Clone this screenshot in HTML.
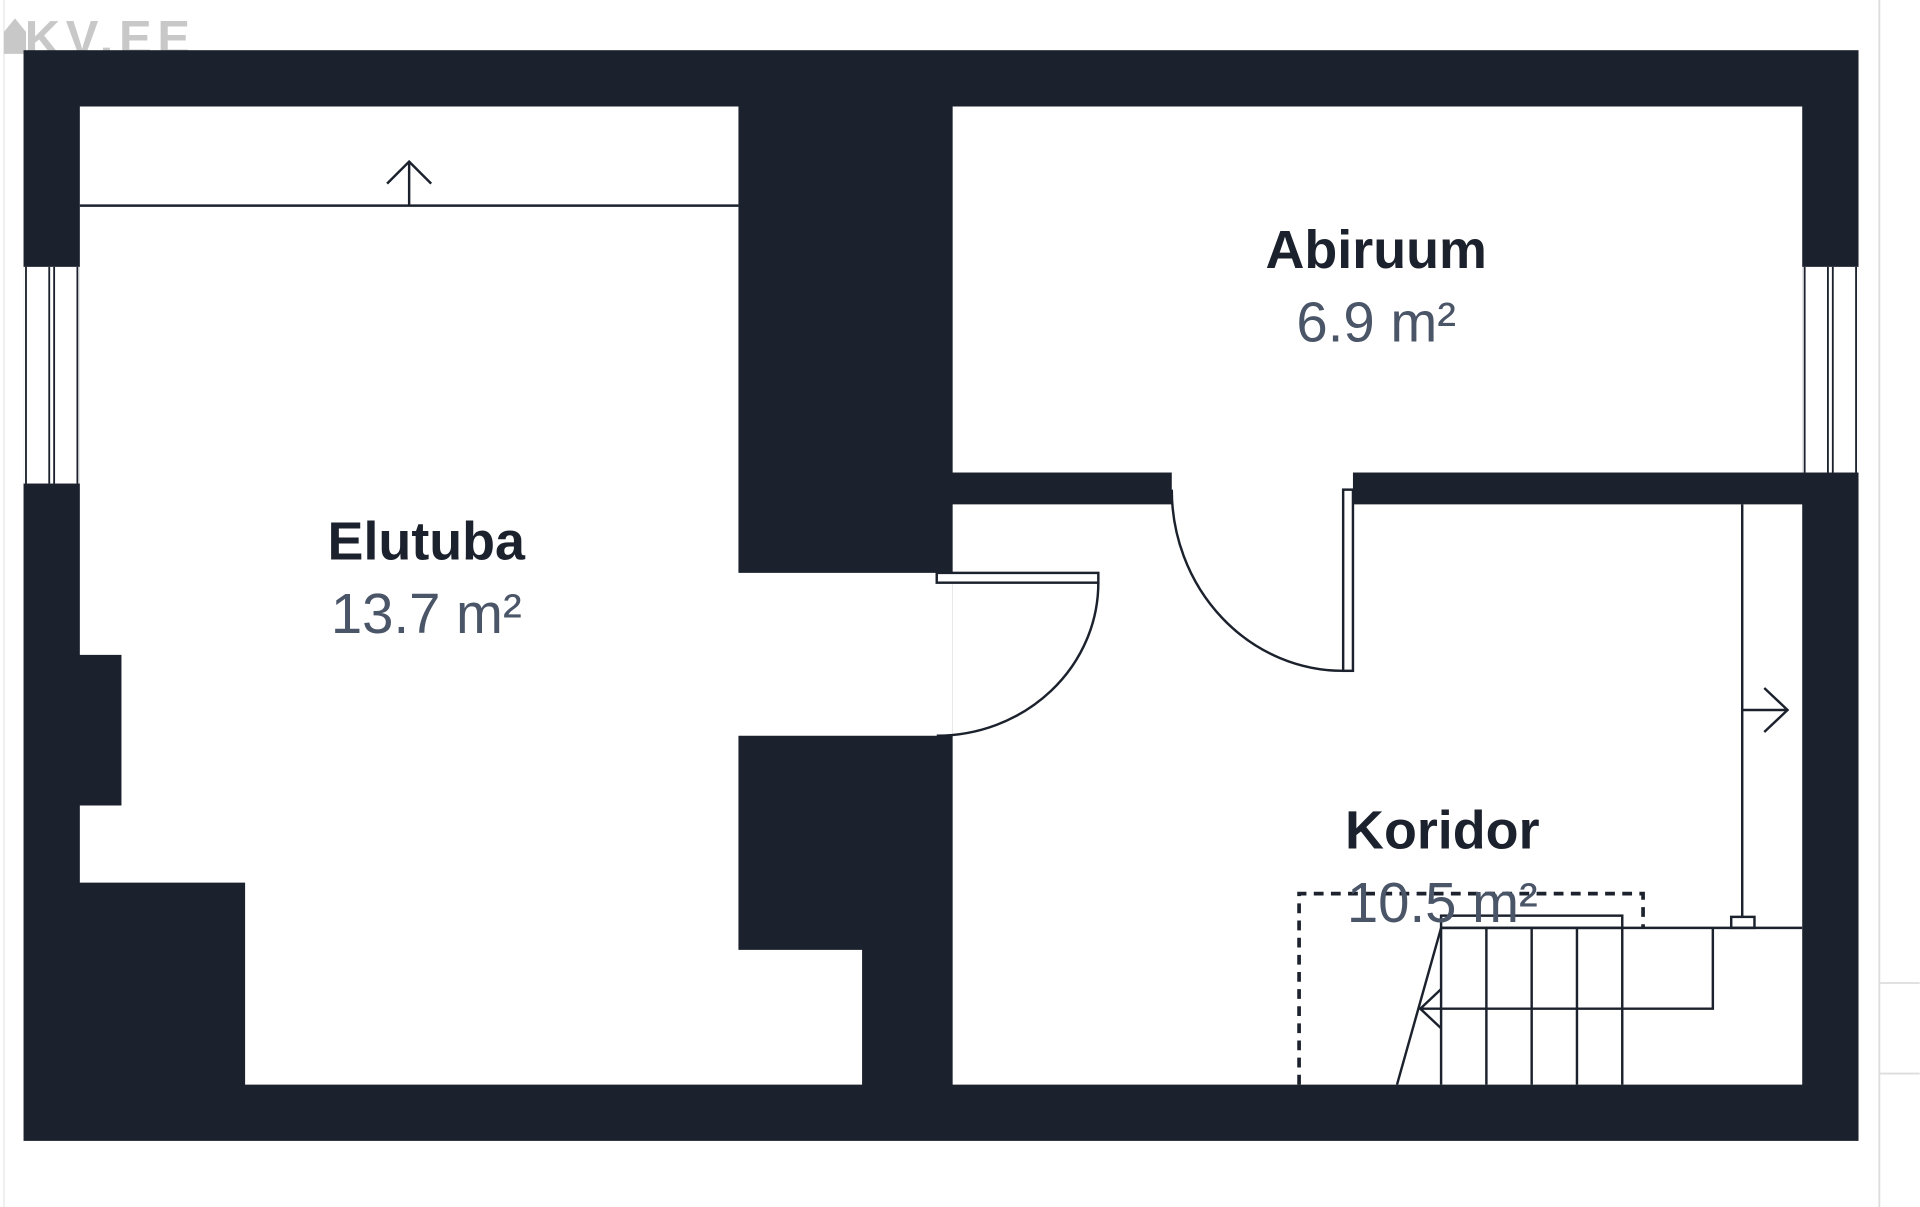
<!DOCTYPE html>
<html><head><meta charset="utf-8"><style>
html,body{margin:0;padding:0;background:#fff;}
svg{display:block;}
</style></head><body>
<svg width="1920" height="1207" viewBox="0 0 1568 986" xmlns="http://www.w3.org/2000/svg">
<rect width="1568" height="986" fill="#fff"/>
<line x1="1535" y1="0" x2="1535" y2="986" stroke="#ddd" stroke-width="1.5"/>
<line x1="1535" y1="803" x2="1568" y2="803" stroke="#ddd" stroke-width="1.5"/>
<line x1="1535" y1="877" x2="1568" y2="877" stroke="#ddd" stroke-width="1.5"/>
<line x1="3" y1="0" x2="3" y2="986" stroke="#e6e6e6" stroke-width="1"/>
<text x="20" y="45" font-family="Liberation Sans, sans-serif" font-weight="bold" font-size="40" fill="#c8c8c8" textLength="135">KV.EE</text>
<path d="M3 44 L3 26 L12 15 L21 26 L21 44 Z" fill="#c8c8c8"/>
<rect x="19" y="41" width="1499" height="891" fill="#1c222d"/>
<path d="M65 87 H603 V468 H778 V601 H603 V776 H704 V886 H200 V721 H65 V658 H99 V535 H65 Z" fill="#fff"/>
<rect x="778" y="87" width="694" height="299" fill="#fff"/>
<path d="M778 412 H957 V386 H1105 V412 H1472 V886 H778 Z" fill="#fff"/>
<rect x="19" y="218" width="46" height="177" fill="#fff"/>
<g stroke="#1c222d" stroke-width="1.5">
<line x1="21" y1="218" x2="21" y2="395"/><line x1="40" y1="218" x2="40" y2="395"/><line x1="44" y1="218" x2="44" y2="395"/><line x1="63" y1="218" x2="63" y2="395"/>
</g>
<rect x="1472" y="218" width="46" height="168" fill="#fff"/>
<g stroke="#1c222d" stroke-width="1.5">
<line x1="1474" y1="218" x2="1474" y2="386"/><line x1="1493" y1="218" x2="1493" y2="386"/><line x1="1497" y1="218" x2="1497" y2="386"/><line x1="1516" y1="218" x2="1516" y2="386"/>
</g>
<g stroke="#1c222d" stroke-width="2" fill="none">
<line x1="65" y1="168" x2="603" y2="168"/>
<line x1="334" y1="168" x2="334" y2="132"/>
<polyline points="316,150 334,132 352,150"/>
<rect x="765" y="468" width="132" height="8" fill="#fff"/>
<path d="M897 476 A132 125 0 0 1 765 601"/>
<rect x="1097" y="400" width="8" height="148" fill="#fff"/>
<path d="M957 400 A140 148 0 0 0 1097 548"/>
<line x1="1423" y1="412" x2="1423" y2="749"/>
<rect x="1414" y="749" width="19" height="9" fill="#fff"/>
<line x1="1423" y1="580" x2="1460" y2="580"/>
<polyline points="1441,562 1460,580 1441,598"/>
<line x1="1177" y1="758" x2="1472" y2="758"/>
<rect x="1177" y="748" width="148" height="10"/>
<line x1="1177" y1="758" x2="1177" y2="886"/>
<line x1="1214" y1="758" x2="1214" y2="886"/>
<line x1="1251" y1="758" x2="1251" y2="886"/>
<line x1="1288" y1="758" x2="1288" y2="886"/>
<line x1="1325" y1="758" x2="1325" y2="886"/>
<polyline points="1399,758 1399,824 1160,824"/>
<polyline points="1177,808 1160,824 1177,840"/>
<line x1="1177" y1="758" x2="1141" y2="886"/>
<polyline points="1061,886 1061,730 1342,730 1342,758" stroke-dasharray="8,6" stroke-width="3"/>
</g>
<g font-family="Liberation Sans, sans-serif" text-anchor="middle">
<text x="348" y="457" font-size="44" font-weight="bold" fill="#1c222d">Elutuba</text>
<text x="348" y="517" font-size="46" fill="#4a5568">13.7 m²</text>
<text x="1124" y="219" font-size="44" font-weight="bold" fill="#1c222d">Abiruum</text>
<text x="1124" y="279" font-size="46" fill="#4a5568">6.9 m²</text>
<text x="1178" y="693" font-size="44" font-weight="bold" fill="#1c222d">Koridor</text>
<text x="1178" y="753" font-size="46" fill="#4a5568">10.5 m²</text>
</g>
</svg>
</body></html>
